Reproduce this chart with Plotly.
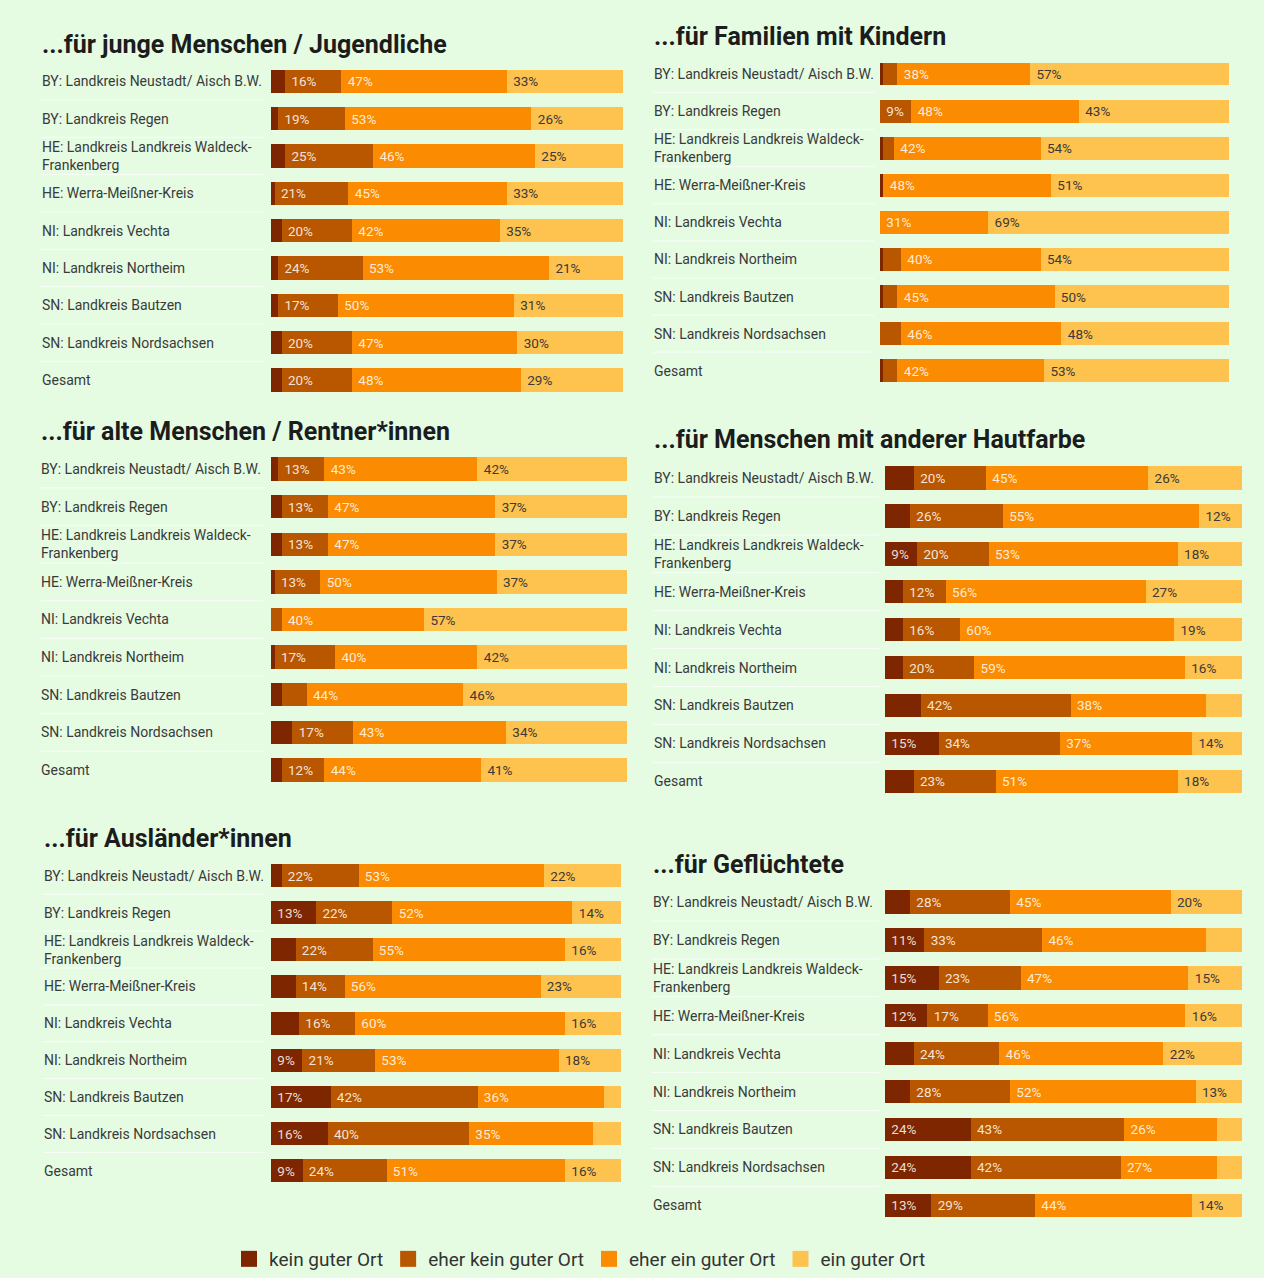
import plotly.graph_objects as go

# ---------------- data ----------------
regions = [
    "BY: Landkreis Neustadt/ Aisch B.W.",
    "BY: Landkreis Regen",
    "HE: Landkreis Landkreis Waldeck-Frankenberg",
    "HE: Werra-Meißner-Kreis",
    "NI: Landkreis Vechta",
    "NI: Landkreis Northeim",
    "SN: Landkreis Bautzen",
    "SN: Landkreis Nordsachsen",
    "Gesamt",
]
region_labels = [
    "BY: Landkreis Neustadt/ Aisch B.W.",
    "BY: Landkreis Regen",
    "HE: Landkreis Landkreis Waldeck-<br>Frankenberg",
    "HE: Werra-Meißner-Kreis",
    "NI: Landkreis Vechta",
    "NI: Landkreis Northeim",
    "SN: Landkreis Bautzen",
    "SN: Landkreis Nordsachsen",
    "Gesamt",
]
answers = ["kein guter Ort", "eher kein guter Ort", "eher ein guter Ort", "ein guter Ort"]

titles = [
    "...für junge Menschen / Jugendliche",
    "...für Familien mit Kindern",
    "...für alte Menschen / Rentner*innen",
    "...für Menschen mit anderer Hautfarbe",
    "...für Ausländer*innen",
    "...für Geflüchtete",
]

jugend_kein      = [4, 2, 4, 1, 3, 2, 2, 3, 3]
jugend_eher_kein = [16, 19, 25, 21, 20, 24, 17, 20, 20]
jugend_eher_ein  = [47, 53, 46, 45, 42, 53, 50, 47, 48]
jugend_ein       = [33, 26, 25, 33, 35, 21, 31, 30, 29]

familie_kein      = [1, 0, 1, 1, 0, 1, 1, 0, 1]
familie_eher_kein = [4, 9, 3, 0, 0, 5, 4, 6, 4]
familie_eher_ein  = [38, 48, 42, 48, 31, 40, 45, 46, 42]
familie_ein       = [57, 43, 54, 51, 69, 54, 50, 48, 53]

alte_kein      = [2, 3, 3, 1, 0, 1, 3, 6, 3]
alte_eher_kein = [13, 13, 13, 13, 3, 17, 7, 17, 12]
alte_eher_ein  = [43, 47, 47, 50, 40, 40, 44, 43, 44]
alte_ein       = [42, 37, 37, 37, 57, 42, 46, 34, 41]

haut_kein      = [8, 7, 9, 5, 5, 5, 10, 15, 8]
haut_eher_kein = [20, 26, 20, 12, 16, 20, 42, 34, 23]
haut_eher_ein  = [45, 55, 53, 56, 60, 59, 38, 37, 51]
haut_ein       = [26, 12, 18, 27, 19, 16, 10, 14, 18]

auslaender_kein      = [3, 13, 7, 7, 8, 9, 17, 16, 9]
auslaender_eher_kein = [22, 22, 22, 14, 16, 21, 42, 40, 24]
auslaender_eher_ein  = [53, 52, 55, 56, 60, 53, 36, 35, 51]
auslaender_ein       = [22, 14, 16, 23, 16, 18, 5, 8, 16]

gefluechtete_kein      = [7, 11, 15, 12, 8, 7, 24, 24, 13]
gefluechtete_eher_kein = [28, 33, 23, 17, 24, 28, 43, 42, 29]
gefluechtete_eher_ein  = [45, 46, 47, 56, 46, 52, 26, 27, 44]
gefluechtete_ein       = [20, 10, 15, 16, 22, 13, 7, 7, 14]

panel_values = [
    [jugend_kein, jugend_eher_kein, jugend_eher_ein, jugend_ein],
    [familie_kein, familie_eher_kein, familie_eher_ein, familie_ein],
    [alte_kein, alte_eher_kein, alte_eher_ein, alte_ein],
    [haut_kein, haut_eher_kein, haut_eher_ein, haut_ein],
    [auslaender_kein, auslaender_eher_kein, auslaender_eher_ein, auslaender_ein],
    [gefluechtete_kein, gefluechtete_eher_kein, gefluechtete_eher_ein, gefluechtete_ein],
]

# ---------------- style / geometry ----------------
W, H = 1264, 1278
BG = "#e5fce3"
colors = ["#7d2600", "#b95700", "#fb8b00", "#fec24e"]
text_colors = ["rgba(255,255,255,0.85)", "rgba(255,255,255,0.85)",
               "rgba(255,255,255,0.85)", "#3a3a3a"]
FONT = "Roboto"

geom = [
    dict(x0=271, x1=623, yf=81.3, yl=380.0, ty=44, tx=40, lx=40),
    dict(x0=880, x1=1229, yf=74.0, yl=370.7, ty=37, tx=652, lx=652),
    dict(x0=271, x1=627, yf=469.0, yl=770.0, ty=431, tx=39, lx=39),
    dict(x0=885, x1=1242, yf=478.0, yl=781.3, ty=440, tx=652, lx=652),
    dict(x0=271, x1=621, yf=875.8, yl=1170.8, ty=838, tx=42, lx=42),
    dict(x0=885, x1=1242, yf=902.0, yl=1205.3, ty=864, tx=651, lx=651),
]


def label_for(v):
    # label only if it fits in the segment
    if (9 <= v < 10) or v >= 11:
        return "\u00a0%d%%" % v
    return ""


fig = go.Figure()
layout = dict(
    width=W, height=H,
    margin=dict(l=0, r=0, t=0, b=0),
    paper_bgcolor=BG, plot_bgcolor="rgba(0,0,0,0)",
    barmode="stack", barnorm="percent", bargap=0.38,
    font=dict(family=FONT, color="#333333"),
    showlegend=True,
    legend=dict(orientation="h", x=229 / W, xanchor="left", y=1 - 1259 / H, yanchor="middle",
                font=dict(family=FONT, size=19, color="#333333"),
                bgcolor="rgba(0,0,0,0)", traceorder="normal", itemsizing="trace"),
    annotations=[], shapes=[],
)

for p, (vals, g) in enumerate(zip(panel_values, geom)):
    ax = "" if p == 0 else str(p + 1)
    for k in range(4):
        fig.add_trace(go.Bar(
            x=vals[k], y=regions, orientation="h",
            xaxis="x" + ax, yaxis="y" + ax,
            name=answers[k], legendgroup=answers[k], showlegend=False,
            marker=dict(color=colors[k], line=dict(width=0)),
            text=[label_for(v) for v in vals[k]],
            textposition="inside", insidetextanchor="start", textangle=0,
            textfont=dict(family=FONT, size=13.5, color=text_colors[k]),
            hoverinfo="skip",
        ))
    s = (g["yl"] - g["yf"]) / 8.0
    top = g["yf"] - s / 2
    bottom = g["yl"] + s / 2
    layout["xaxis" + ax] = dict(domain=[g["x0"] / W, g["x1"] / W], range=[0, 100],
                                visible=False, fixedrange=True, anchor="y" + ax)
    layout["yaxis" + ax] = dict(domain=[1 - bottom / H, 1 - top / H], range=[8.5, -0.5],
                                type="category", categoryorder="array", categoryarray=regions,
                                visible=False, fixedrange=True, anchor="x" + ax)
    # title
    layout["annotations"].append(dict(
        text="<b>%s</b>" % titles[p], xref="paper", yref="paper",
        x=g["tx"] / W, y=1 - g["ty"] / H, xanchor="left", yanchor="middle",
        showarrow=False, font=dict(family=FONT, size=25, color="#1c1c1c")))
    # row labels
    for r, lab in zip(regions, region_labels):
        layout["annotations"].append(dict(
            text=lab, xref="paper", yref="y" + ax, x=g["lx"] / W, y=r,
            xanchor="left", yanchor="middle", align="left", showarrow=False,
            font=dict(family=FONT, size=14, color="#3a3a3a")))
    # separators
    for i in range(len(regions) - 1):
        layout["shapes"].append(dict(
            type="line", xref="paper", yref="y" + ax,
            x0=(g["lx"] + 1) / W, x1=(g["x0"] - 6) / W, y0=i + 0.5, y1=i + 0.5,
            line=dict(color="rgba(255,255,255,0.75)", width=1)))

# legend entries (square swatches)
for k in range(4):
    fig.add_trace(go.Scatter(
        x=[None], y=[None], mode="markers", name=answers[k], legendgroup=answers[k],
        marker=dict(symbol="square", size=20, color=colors[k]),
        showlegend=True, hoverinfo="skip"))

fig.update_layout(**layout)

fig.write_html("out.html", config={"displayModeBar": False},
               post_script="document.body.style.margin='0';document.body.style.background='%s';" % BG)
